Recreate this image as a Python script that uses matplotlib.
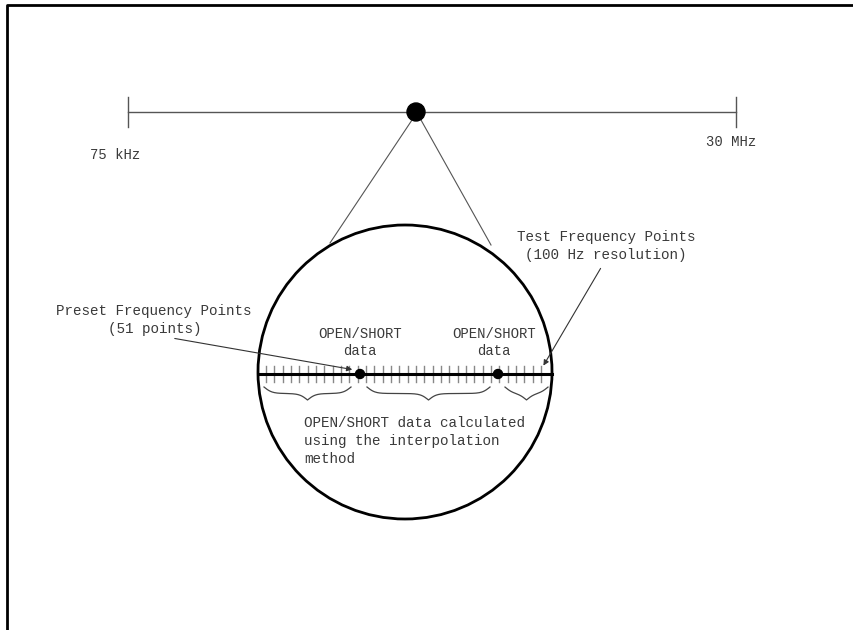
import matplotlib.pyplot as plt
from matplotlib.patches import Circle
import numpy as np

# sweep range shown at the top
range_labels = ["75 kHz", "30 MHz"]
range_x = [128, 736]
range_y = 112
zoom_point = (416, 112)

# magnified view
circle_center = (405, 372)
circle_radius = 147
axis_y = 374
axis_span = [258, 552]
test_ticks = np.linspace(266, 541, 34)
preset_points = [360, 498]
preset_label_x = [360, 494]
brace_spans = [(264, 351), (367, 490), (505, 548)]

mono = ["Liberation Mono", "DejaVu Sans Mono"]
txt = "#3a3a3a"


def draw_brace(ax, x0, x1, top, h=13, beta=0.25):
    xm = (x0 + x1) / 2
    xs = np.linspace(x0, xm, 80)
    half = 1 / (1 + np.exp(-beta * (xs - x0))) + 1 / (1 + np.exp(-beta * (xs - xm)))
    ys = top + h * (half - 0.5)
    xx = np.concatenate([xs, (2 * xm - xs)[::-1]])
    yy = np.concatenate([ys, ys[::-1]])
    ax.plot(xx, yy, color="#444", lw=0.9)


fig = plt.figure(figsize=(8.54, 6.3), dpi=100)
ax = fig.add_axes([0, 0, 1, 1])
ax.set_xlim(0, 854)
ax.set_ylim(630, 0)
ax.axis("off")

# frame (left and top edges only)
ax.plot([7, 7, 854], [630, 5, 5], color="black", lw=2)

# frequency range line
ax.plot(range_x, [range_y, range_y], color="#555", lw=1)
for x in range_x:
    ax.plot([x, x], [range_y - 15, range_y + 15], color="#555", lw=1)
ax.text(90, 155, range_labels[0], family=mono, fontsize=10, color=txt, va="center")
ax.text(706, 142, range_labels[1], family=mono, fontsize=10, color=txt, va="center")
ax.add_patch(Circle(zoom_point, 9, color="black", zorder=5))

# lines down to magnified circle
ax.plot([zoom_point[0] - 4, 330], [zoom_point[1] + 8, 243], color="#555", lw=0.8)
ax.plot([zoom_point[0] + 5, 491], [zoom_point[1] + 8, 245], color="#555", lw=0.8)

ax.add_patch(Circle(circle_center, circle_radius, fill=False, ec="black", lw=2))

# frequency axis inside circle
for x in test_ticks:
    ax.plot([x, x], [axis_y - 8, axis_y + 8], color="#888", lw=1)
ax.plot(axis_span, [axis_y, axis_y], color="black", lw=2.2)
for x in preset_points:
    ax.add_patch(Circle((x, axis_y), 4.5, color="black", zorder=5))

for x0, x1 in brace_spans:
    draw_brace(ax, x0, x1, 387)

# labels
for x in preset_label_x:
    ax.text(x, 334, "OPEN/SHORT", family=mono, fontsize=10, color=txt, ha="center", va="center")
    ax.text(x, 351, "data", family=mono, fontsize=10, color=txt, ha="center", va="center")

ax.text(154, 311, "Preset Frequency Points", family=mono, fontsize=10.3, color=txt, ha="center", va="center")
ax.text(155, 329, "(51 points)", family=mono, fontsize=10.3, color=txt, ha="center", va="center")
ax.annotate("", xy=(355, 370), xytext=(172, 338),
            arrowprops=dict(arrowstyle="-|>", color="#333", lw=0.8, mutation_scale=8))

ax.text(606, 237, "Test Frequency Points", family=mono, fontsize=10.3, color=txt, ha="center", va="center")
ax.text(606, 255, "(100 Hz resolution)", family=mono, fontsize=10.3, color=txt, ha="center", va="center")
ax.annotate("", xy=(542, 368), xytext=(602, 266),
            arrowprops=dict(arrowstyle="-|>", color="#333", lw=0.8, mutation_scale=8))

ax.text(304, 416, "OPEN/SHORT data calculated\nusing the interpolation\nmethod",
        family=mono, fontsize=10.3, color=txt, ha="left", va="top", linespacing=1.36)

fig.savefig("out.png", dpi=100)
